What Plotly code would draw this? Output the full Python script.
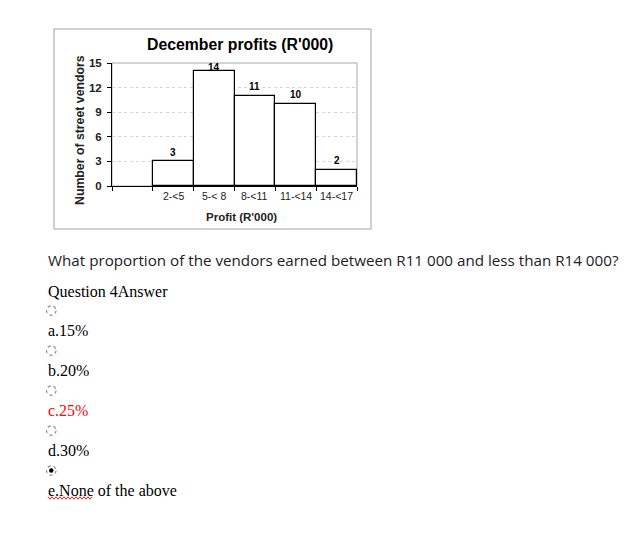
import plotly.graph_objects as go

# ---- data ----
categories = ["2-<5", "5-< 8", "8-<11", "11-<14", "14-<17"]
counts = [3, 14, 11, 10, 2]
y_ticks = [0, 3, 6, 9, 12, 15]
chart_title = "December profits (R'000)"
x_title = "Profit (R'000)"
y_title = "Number of street vendors"
question = "What proportion of the vendors earned between R11 000 and less than R14 000?"
question_label = "Question 4Answer"
options = ["a.15%", "b.20%", "c.25%", "d.30%", "e.None of the above"]
selected_option = 4
highlighted_option = 2

W, H = 641, 540
def px(x):
    return x / W
def py(y):
    return 1 - y / H

ARIAL = "Arial, Liberation Sans, sans-serif"
SERIF = "Times New Roman, Liberation Serif, serif"

# one empty class slot before the first class
x_centers = [i + 1.5 for i in range(len(categories))]
x_edges = list(range(len(categories) + 2))
y_max = y_ticks[-1]

fig = go.Figure()
fig.add_trace(go.Bar(
    x=x_centers, y=counts, width=1,
    marker=dict(color="white", line=dict(color="black", width=1.2)),
    hoverinfo="skip", showlegend=False,
))

annotations = []
# value labels above bars (clamped under the plot top)
for xc, v in zip(x_centers, counts):
    annotations.append(dict(
        x=xc, y=min(v + 1.1, y_max - 0.6), xref="x", yref="y",
        text=str(v), showarrow=False, yanchor="middle",
        font=dict(family=ARIAL, size=10, color="black", weight="bold"),
    ))
# x tick labels
for xc, lab in zip(x_centers, categories):
    annotations.append(dict(
        x=xc, y=py(196), xref="x", yref="paper", text=lab, showarrow=False,
        yanchor="middle", font=dict(family=ARIAL, size=10.5, color="#222"),
    ))
# titles
annotations.append(dict(x=px(240), y=py(44), xref="paper", yref="paper", text=chart_title,
                        showarrow=False, xanchor="center", yanchor="middle",
                        font=dict(family=ARIAL, size=15.8, color="black", weight="bold")))
annotations.append(dict(x=px(241), y=py(217), xref="paper", yref="paper", text=x_title,
                        showarrow=False, xanchor="center", yanchor="middle",
                        font=dict(family=ARIAL, size=11.5, color="#222", weight="bold")))
annotations.append(dict(x=px(80), y=py(130), xref="paper", yref="paper", text=y_title,
                        showarrow=False, textangle=-90, xanchor="center", yanchor="middle",
                        font=dict(family=ARIAL, size=12.3, color="#222", weight="bold")))
# quiz text
annotations.append(dict(x=px(46), y=py(260), xref="paper", yref="paper", text=question,
                        showarrow=False, xanchor="left", yanchor="middle",
                        font=dict(family="Open Sans, sans-serif", size=15.2, color="#1d2125")))
annotations.append(dict(x=px(46), y=py(291), xref="paper", yref="paper", text=question_label,
                        showarrow=False, xanchor="left", yanchor="middle",
                        font=dict(family=SERIF, size=16, color="black")))

shapes = []
# outer chart frame
shapes.append(dict(type="rect", xref="paper", yref="paper", x0=px(54), x1=px(371),
                   y0=py(229), y1=py(29), line=dict(color="#a0a0a0", width=1), layer="below"))
# plot area frame (gray)
shapes.append(dict(type="rect", xref="x domain", yref="y domain", x0=0, x1=1, y0=0, y1=1,
                   line=dict(color="#a8a8a8", width=1), layer="below"))

for i, opt in enumerate(options):
    ry = 310.5 + 40 * i
    ty = 330 + 40 * i
    shapes.append(dict(type="circle", xref="paper", yref="paper",
                       x0=px(46.5), x1=px(56), y0=py(ry + 4.7), y1=py(ry - 4.7),
                       line=dict(color="#8a8a8a", width=1.2, dash="dot")))
    if i == selected_option:
        shapes.append(dict(type="circle", xref="paper", yref="paper",
                           x0=px(49), x1=px(53.5), y0=py(ry + 2.3), y1=py(ry - 2.3),
                           fillcolor="black", line=dict(color="black", width=0)))
    color = "#ff0000" if i == highlighted_option else "black"
    annotations.append(dict(x=px(46), y=py(ty), xref="paper", yref="paper", text=opt,
                            showarrow=False, xanchor="left", yanchor="middle",
                            font=dict(family=SERIF, size=16, color=color)))

# red spell-check squiggle under "e.None"
sq_y = 498
pts = []
xx = 48.0
k = 0
while xx <= 93:
    pts.append((xx, sq_y + (1.2 if k % 2 else -1.2)))
    xx += 2
    k += 1
path = "M " + " L ".join(f"{px(a)},{py(b)}" for a, b in pts)
shapes.append(dict(type="path", xref="paper", yref="paper", path=path,
                   line=dict(color="#e02020", width=1)))

fig.update_layout(
    width=W, height=H,
    margin=dict(l=0, r=0, t=0, b=0),
    paper_bgcolor="white", plot_bgcolor="white",
    bargap=0,
    annotations=annotations, shapes=shapes,
    xaxis=dict(domain=[px(112), px(357)], range=[0, len(categories) + 1],
               tickmode="array", tickvals=x_edges, showticklabels=False,
               ticks="outside", ticklen=4, tickcolor="black", tickwidth=1,
               showline=True, linecolor="black", linewidth=1,
               showgrid=False, zeroline=False, fixedrange=True, automargin=False),
    yaxis=dict(domain=[py(186), py(63)], range=[0, y_max],
               tickmode="array", tickvals=y_ticks,
               ticks="outside", ticklen=4, tickcolor="black", tickwidth=1,
               ticklabelstandoff=3,
               tickfont=dict(family=ARIAL, size=11.5, color="#222", weight="bold"),
               showline=True, linecolor="black", linewidth=1,
               showgrid=True, gridcolor="#d4d4d4", griddash="dot", gridwidth=1,
               zeroline=False, fixedrange=True, automargin=False),
)

fig.write_html("out.html")
